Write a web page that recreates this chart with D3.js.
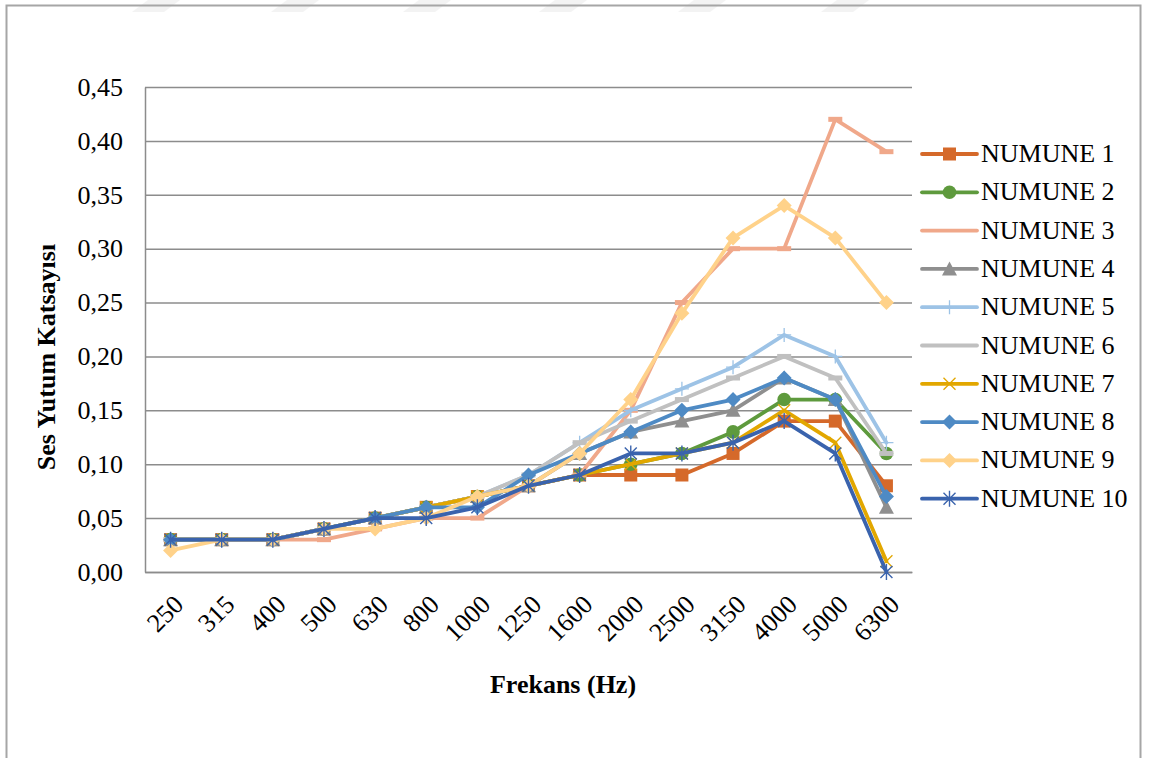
<!DOCTYPE html>
<html><head><meta charset="utf-8">
<script src="https://cdn.jsdelivr.net/npm/d3@7"></script>
<style>body{margin:0;background:#fff;} svg{display:block;font-family:"Liberation Serif","Times New Roman",serif;}</style>
</head><body>
<svg id="c" width="1150" height="758"></svg>
<script>
const categories = ["250","315","400","500","630","800","1000","1250","1600","2000","2500","3150","4000","5000","6300"];
const seriesNames = ["NUMUNE 1","NUMUNE 2","NUMUNE 3","NUMUNE 4","NUMUNE 5","NUMUNE 6","NUMUNE 7","NUMUNE 8","NUMUNE 9","NUMUNE 10"];
const numune1  = [0.03,0.03,0.03,0.04,0.05,0.06,0.07,0.08,0.09,0.09,0.09,0.11,0.14,0.14,0.08];
const numune2  = [0.03,0.03,0.03,0.04,0.05,0.06,0.07,0.08,0.09,0.10,0.11,0.13,0.16,0.16,0.11];
const numune3  = [0.03,0.03,0.03,0.03,0.04,0.05,0.05,0.08,0.09,0.15,0.25,0.30,0.30,0.42,0.39];
const numune4  = [0.03,0.03,0.03,0.04,0.05,0.06,0.07,0.08,0.11,0.13,0.14,0.15,0.18,0.16,0.06];
const numune5  = [0.03,0.03,0.03,0.04,0.05,0.06,0.07,0.09,0.12,0.15,0.17,0.19,0.22,0.20,0.12];
const numune6  = [0.03,0.03,0.03,0.04,0.05,0.06,0.07,0.09,0.12,0.14,0.16,0.18,0.20,0.18,0.11];
const numune7  = [0.03,0.03,0.03,0.04,0.05,0.06,0.07,0.08,0.09,0.10,0.11,0.12,0.15,0.12,0.01];
const numune8  = [0.03,0.03,0.03,0.04,0.05,0.06,0.06,0.09,0.11,0.13,0.15,0.16,0.18,0.16,0.07];
const numune9  = [0.02,0.03,0.03,0.04,0.04,0.05,0.07,0.08,0.11,0.16,0.24,0.31,0.34,0.31,0.25];
const numune10 = [0.03,0.03,0.03,0.04,0.05,0.05,0.06,0.08,0.09,0.11,0.11,0.12,0.14,0.11,0.00];
const yTicks = [0,0.05,0.10,0.15,0.20,0.25,0.30,0.35,0.40,0.45];
const xTitle = "Frekans (Hz)";
const yTitle = "Ses Yutum Katsayısı";

const colors = ["#D5692A","#5E9A3D","#F0A88A","#8F8F8F","#9DC3E6","#C0C0C0","#E2A700","#4E8AC4","#FFD28A","#3A63AD"];
const markers = ["square","circle","dash","triangle","plus","dash","x","diamond","diamond","asterisk"];
const allValues = [numune1,numune2,numune3,numune4,numune5,numune6,numune7,numune8,numune9,numune10];
const series = seriesNames.map((n,i)=>({name:n, values:allValues[i], color:colors[i], marker:markers[i]}));

const svg = d3.select("#c");

// faint watermark stripes at top
const stripeX = [132,271,403,539,678,821];
svg.append("g").selectAll("path").data(stripeX).join("path")
  .attr("d", d=>`M${d},12 L${d+32},12 L${d+48},0 L${d+16},0 Z`)
  .attr("fill","#f3f3f3");

// outer border
svg.append("rect").attr("x",6.5).attr("y",5.5).attr("width",1134).attr("height",800)
  .attr("fill","none").attr("stroke","#a6a6a6").attr("stroke-width",2);

const pLeft=145, pRight=912, pTop=87, pBottom=572;
const x = d3.scalePoint().domain(categories).range([pLeft,pRight]).padding(0.5);
const y = d3.scaleLinear().domain([0,0.45]).range([pBottom,pTop]);
const fmt = v => d3.format(".2f")(v).replace(".",",");

// gridlines
svg.append("g").attr("transform",`translate(${pLeft},0)`)
  .call(d3.axisLeft(y).tickValues(yTicks).tickSize(-(pRight-pLeft)).tickFormat(""))
  .call(g=>g.select(".domain").remove())
  .call(g=>g.selectAll("line").attr("stroke","#8c8c8c").attr("stroke-width",1.5));

// y axis
const ya = svg.append("g").attr("transform",`translate(${pLeft},0)`)
  .call(d3.axisLeft(y).tickValues(yTicks).tickSize(0).tickPadding(22).tickFormat(fmt));
ya.select(".domain").attr("stroke","#8c8c8c").attr("stroke-width",1.5);
ya.selectAll("text").attr("font-family","Liberation Serif, Times New Roman, serif").attr("font-size",26).attr("fill","#000");

// x axis
const xa = svg.append("g").attr("transform",`translate(0,${pBottom})`)
  .call(d3.axisBottom(x).tickSize(0).tickFormat(d=>d));
xa.select(".domain").attr("stroke","#8c8c8c").attr("stroke-width",1.5);
xa.selectAll("text").attr("font-family","Liberation Serif, Times New Roman, serif").attr("font-size",26).attr("fill","#000")
  .attr("text-anchor","end").attr("dy",null).attr("y",0)
  .attr("transform","translate(14,34) rotate(-45)");

// titles
svg.append("text").attr("x",563).attr("y",693).attr("text-anchor","middle")
  .attr("font-weight","bold").attr("font-size",26).text(xTitle);
svg.append("text").attr("transform","translate(55,357) rotate(-90)").attr("text-anchor","middle")
  .attr("font-weight","bold").attr("font-size",26).text(yTitle);

function drawMarker(g, type, color){
  const s=6.5;
  switch(type){
    case "square": g.append("rect").attr("x",-s).attr("y",-s).attr("width",2*s).attr("height",2*s).attr("fill",color); break;
    case "circle": g.append("circle").attr("r",s+0.3).attr("fill",color); break;
    case "triangle": g.append("path").attr("d",`M0,${-s-1} L${s+1},${s} L${-s-1},${s} Z`).attr("fill",color); break;
    case "diamond": g.append("path").attr("d",`M0,${-s-1} L${s+1},0 L0,${s+1} L${-s-1},0 Z`).attr("fill",color); break;
    case "dash": g.append("rect").attr("x",-7).attr("y",-2.5).attr("width",14).attr("height",5).attr("fill",color); break;
    case "plus": g.append("path").attr("d",`M${-7},0 L7,0 M0,-7 L0,7`).attr("stroke",color).attr("stroke-width",1.3); break;
    case "x": g.append("path").attr("d",`M-6,-6 L6,6 M-6,6 L6,-6`).attr("stroke",color).attr("stroke-width",1.3); break;
    case "asterisk": g.append("path").attr("d",`M-6,-6 L6,6 M-6,6 L6,-6 M0,-8 L0,8`).attr("stroke",color).attr("stroke-width",1.4); break;
  }
}

const line = d3.line().x((d,i)=>x(categories[i])).y(d=>y(d));
series.forEach(s=>{
  const g = svg.append("g");
  g.append("path").attr("d",line(s.values)).attr("fill","none").attr("stroke",s.color)
    .attr("stroke-width",3.8).attr("stroke-linejoin","round").attr("stroke-linecap","round");
  s.values.forEach((v,i)=>{
    const mg = g.append("g").attr("transform",`translate(${x(categories[i])},${y(v)})`);
    drawMarker(mg, s.marker, s.color);
  });
});

// legend
const lg = svg.append("g");
series.forEach((s,i)=>{
  const ry = 154 + i*38.3;
  const g = lg.append("g").attr("transform",`translate(0,${ry})`);
  g.append("line").attr("x1",922).attr("x2",977).attr("y1",0).attr("y2",0)
    .attr("stroke",s.color).attr("stroke-width",3.8).attr("stroke-linecap","round");
  const mg = g.append("g").attr("transform","translate(949.5,0)");
  if(s.marker!=="dash") drawMarker(mg, s.marker, s.color);
  g.append("text").attr("x",981).attr("y",8).attr("font-size",26).attr("fill","#000").text(s.name);
});
</script>
</body></html>
